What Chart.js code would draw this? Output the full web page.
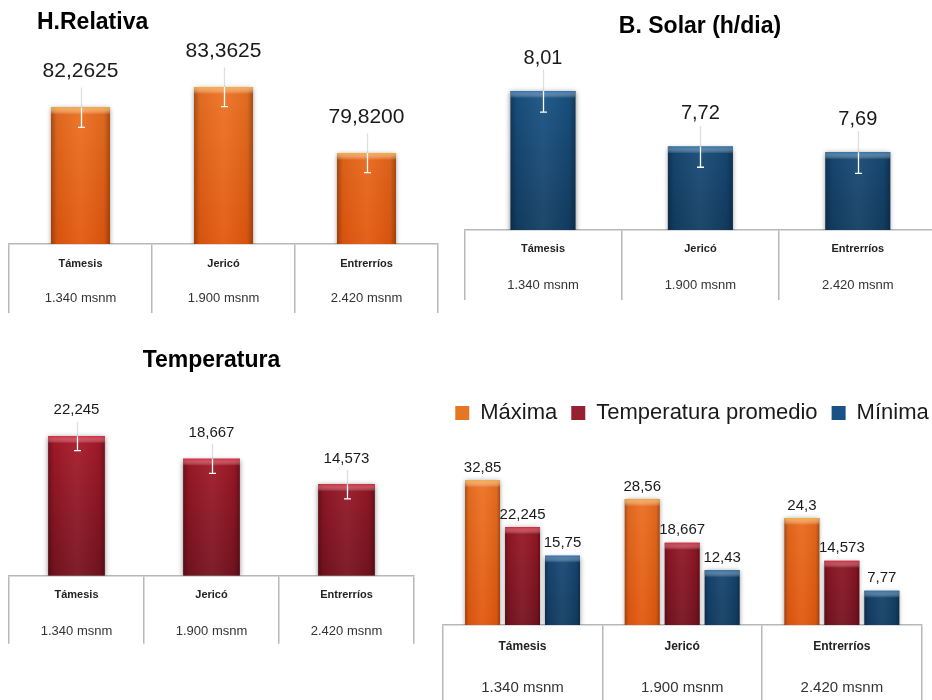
<!DOCTYPE html>
<html><head><meta charset="utf-8">
<script src="https://cdn.jsdelivr.net/npm/chart.js@4/dist/chart.umd.min.js"></script>
<style>
html,body{margin:0;padding:0;width:932px;height:700px;overflow:hidden;background:#fff;}
canvas{position:absolute;}
</style></head><body>
<canvas id="c1" width="466" height="330" style="left:0px;top:0px"></canvas>
<canvas id="c2" width="490" height="310" style="left:455px;top:0px"></canvas>
<canvas id="c3" width="466" height="330" style="left:0px;top:330px"></canvas>
<canvas id="c4" width="512" height="317" style="left:436px;top:388px"></canvas>
<script>
// ---- data ----
const sites = ['Támesis', 'Jericó', 'Entrerríos'];
const altitudes = ['1.340 msnm', '1.900 msnm', '2.420 msnm'];
const humedad = [82.2625, 83.3625, 79.82];
const humedadErr = [1.07, 1.05, 1.05];
const brilloSolar = [8.01, 7.72, 7.69];
const brilloErr = [0.11, 0.108, 0.11];
const tempPromedio = [22.245, 18.667, 14.573];
const tempErr = [2.3, 2.35, 2.3];
const tempMaxima = [32.85, 28.56, 24.3];
const tempMinima = [15.75, 12.43, 7.77];
const seriesNames = ['Máxima', 'Temperatura promedio', 'Mínima'];

const FONT = "'Liberation Sans', Arial, sans-serif";
const LINE = '#b8b8b8';
const tableLabels = sites.map((s, i) => [s, altitudes[i]]);

const PAL = {
  orange: {top: '#f07a2a', bottom: '#e2580f', band: 'rgba(246,176,70,0.9)', legend: '#e57722'},
  red:    {top: '#b91c2d', bottom: '#76131f', band: 'rgba(226,40,60,0.9)',  legend: '#962030'},
  blue:   {top: '#1c5b8f', bottom: '#123d63', band: 'rgba(52,118,176,0.9)', legend: '#1a5285'}
};

function grad(p) {
  return (c) => {
    const {ctx, chartArea} = c.chart;
    if (!chartArea) return p.top;
    const g = ctx.createLinearGradient(0, chartArea.top, 0, chartArea.bottom);
    g.addColorStop(0, p.top);
    g.addColorStop(1, p.bottom);
    return g;
  };
}

function fmt(v, dec) {
  const s = dec == null ? String(v) : v.toFixed(dec);
  return s.replace('.', ',');
}

// ---- plugins ----
const decor = {
  id: 'decor',
  beforeDatasetsDraw(chart) {
    const ctx = chart.ctx;
    ctx.save();
    ctx.shadowColor = 'rgba(0,0,0,0.45)';
    ctx.shadowBlur = 5;
    ctx.shadowOffsetY = 1;
  },
  afterDatasetsDraw(chart) {
    const ctx = chart.ctx;
    ctx.restore();
    const area = chart.chartArea;
    ctx.save();
    ctx.beginPath();
    ctx.rect(area.left, area.top, area.right - area.left, area.bottom - area.top);
    ctx.clip();
    chart.data.datasets.forEach((ds, di) => {
      const meta = chart.getDatasetMeta(di);
      meta.data.forEach((bar) => {
        const {x, y, base, width} = bar.getProps(['x', 'y', 'base', 'width'], true);
        const b = Math.min(base, area.bottom);
        const l = x - width / 2, h = b - y;
        const g = ctx.createLinearGradient(l, 0, l + width, 0);
        g.addColorStop(0, 'rgba(0,0,0,0.30)');
        g.addColorStop(0.1, 'rgba(0,0,0,0.06)');
        g.addColorStop(0.5, 'rgba(255,255,255,0.05)');
        g.addColorStop(0.9, 'rgba(0,0,0,0.06)');
        g.addColorStop(1, 'rgba(0,0,0,0.30)');
        ctx.fillStyle = g;
        ctx.fillRect(l, y, width, h);
        const tg = ctx.createLinearGradient(0, y, 0, y + 7);
        tg.addColorStop(0, ds.bandColor);
        tg.addColorStop(1, 'rgba(255,255,255,0)');
        ctx.fillStyle = tg;
        ctx.fillRect(l, y, width, Math.min(7, h));
      });
    });
    ctx.restore();
  }
};

const errorBars = {
  id: 'errorBars',
  afterDatasetsDraw(chart) {
    const ctx = chart.ctx, ys = chart.scales.y;
    chart.data.datasets.forEach((ds, di) => {
      if (!ds.errors) return;
      chart.getDatasetMeta(di).data.forEach((bar, i) => {
        const v = ds.data[i], e = ds.errors[i];
        const x = Math.round(bar.x) + 0.5;
        const yHi = ys.getPixelForValue(v + e), yLo = ys.getPixelForValue(v - e);
        ctx.save();
        ctx.lineWidth = 1.3;
        ctx.strokeStyle = 'rgba(200,200,200,0.6)';
        ctx.beginPath(); ctx.moveTo(x, yHi); ctx.lineTo(x, bar.y); ctx.stroke();
        ctx.strokeStyle = '#ffffff';
        ctx.beginPath(); ctx.moveTo(x, bar.y); ctx.lineTo(x, yLo);
        ctx.moveTo(x - 3.5, yLo); ctx.lineTo(x + 3.5, yLo); ctx.stroke();
        ctx.restore();
      });
    });
  }
};

const valueLabels = {
  id: 'valueLabels',
  afterDraw(chart, args, o) {
    const ctx = chart.ctx;
    ctx.save();
    ctx.font = o.size + 'px ' + FONT;
    ctx.fillStyle = '#1a1a1a';
    ctx.textAlign = 'center';
    ctx.textBaseline = 'middle';
    chart.data.datasets.forEach((ds, di) => {
      chart.getDatasetMeta(di).data.forEach((bar, i) => {
        ctx.fillText(fmt(ds.data[i], o.decimals), bar.x, bar.y - o.offset);
      });
    });
    ctx.restore();
  }
};

const tableText = {
  id: 'tableText',
  afterDraw(chart, args, o) {
    const ctx = chart.ctx, xs = chart.scales.x;
    const axisY = xs.top;
    ctx.save();
    ctx.textAlign = 'center';
    ctx.textBaseline = 'middle';
    chart.data.labels.forEach((lab, i) => {
      const x = xs.getPixelForValue(i);
      ctx.fillStyle = '#222';
      ctx.font = 'bold ' + o.nameSize + 'px ' + FONT;
      ctx.fillText(lab[0], x, axisY + o.nameDy);
      ctx.fillStyle = '#333';
      ctx.font = o.altSize + 'px ' + FONT;
      ctx.fillText(lab[1], x, axisY + o.altDy);
    });
    ctx.restore();
  }
};

const panelTitle = {
  id: 'panelTitle',
  afterDraw(chart, args, o) {
    if (!o.text) return;
    const ctx = chart.ctx;
    ctx.save();
    ctx.font = 'bold ' + o.size + 'px ' + FONT;
    ctx.fillStyle = '#000';
    ctx.textAlign = o.align;
    ctx.textBaseline = 'alphabetic';
    ctx.fillText(o.text, o.x, o.y);
    ctx.restore();
  }
};

function xAxis(tick) {
  return {
    type: 'category',
    offset: true,
    grid: {display: true, offset: true, drawOnChartArea: false, drawTicks: true, tickLength: tick, color: LINE, lineWidth: 1.5},
    border: {display: true, color: LINE, width: 1.5},
    ticks: {display: false}
  };
}

function singleChart(id, cfg) {
  return new Chart(document.getElementById(id), {
    type: 'bar',
    data: {
      labels: tableLabels,
      datasets: [{
        data: cfg.data,
        errors: cfg.errors,
        backgroundColor: grad(cfg.pal),
        bandColor: cfg.pal.band,
        categoryPercentage: 1,
        barPercentage: cfg.barPct,
        borderWidth: 0
      }]
    },
    options: {
      responsive: false,
      animation: false,
      layout: {padding: cfg.padding},
      scales: {
        x: xAxis(cfg.tick),
        y: {display: false, bounds: 'data', min: cfg.min, max: cfg.max}
      },
      plugins: {
        legend: {display: false},
        tooltip: {enabled: false},
        valueLabels: {size: cfg.labelSize, offset: cfg.labelOffset, decimals: cfg.decimals},
        tableText: cfg.table,
        panelTitle: cfg.title
      }
    },
    plugins: [decor, errorBars, valueLabels, tableText, panelTitle]
  });
}

// Panel 1: Humedad relativa
singleChart('c1', {
  data: humedad, errors: humedadErr, pal: PAL.orange, barPct: 0.413,
  padding: {left: 9, right: 28, top: 40, bottom: 17}, tick: 69,
  min: 74.935, max: 85.885,
  labelSize: 21, labelOffset: 36, decimals: 4,
  table: {nameSize: 11, altSize: 13, nameDy: 20, altDy: 54},
  title: {text: 'H.Relativa', x: 37, y: 29, align: 'left', size: 23}
});

// Panel 2: Brillo solar
singleChart('c2', {
  data: brilloSolar, errors: brilloErr, pal: PAL.blue, barPct: 0.413,
  padding: {left: 9.3, right: 8.5, top: 40, bottom: 10}, tick: 70,
  min: 7.2845, max: 8.2762,
  labelSize: 20, labelOffset: 33, decimals: 2,
  table: {nameSize: 11, altSize: 13, nameDy: 19, altDy: 55},
  title: {text: 'B. Solar (h/dia)', x: 245, y: 33, align: 'center', size: 23}
});

// Panel 3: Temperatura
singleChart('c3', {
  data: tempPromedio, errors: tempErr, pal: PAL.red, barPct: 0.42,
  padding: {left: 9, right: 52, top: 60, bottom: 16.3}, tick: 68,
  min: 0, max: 29.63,
  labelSize: 15, labelOffset: 26, decimals: null,
  table: {nameSize: 11, altSize: 13, nameDy: 19.3, altDy: 55.3},
  title: {text: 'Temperatura', x: 211.5, y: 36.7, align: 'center', size: 23}
});

// Panel 4: Máxima / promedio / mínima
const legendColors = [PAL.orange.legend, PAL.red.legend, PAL.blue.legend];
new Chart(document.getElementById('c4'), {
  type: 'bar',
  data: {
    labels: tableLabels,
    datasets: [
      {label: seriesNames[0], data: tempMaxima, backgroundColor: grad(PAL.orange), bandColor: PAL.orange.band},
      {label: seriesNames[1], data: tempPromedio, backgroundColor: grad(PAL.red), bandColor: PAL.red.band},
      {label: seriesNames[2], data: tempMinima, backgroundColor: grad(PAL.blue), bandColor: PAL.blue.band}
    ]
  },
  options: {
    responsive: false,
    animation: false,
    datasets: {bar: {categoryPercentage: 0.751, barPercentage: 0.875, borderWidth: 0}},
    layout: {padding: 0},
    scales: {
      x: xAxis(80),
      y: {position: 'left', bounds: 'data', min: 0, max: 43.39,
          grid: {display: false}, border: {display: false}, ticks: {display: false},
          afterFit(s) { s.width = 6.7; }},
      y2: {type: 'linear', position: 'right', min: 0, max: 1,
          grid: {display: false}, border: {display: false}, ticks: {display: false},
          afterFit(s) { s.width = 26.3; }}
    },
    plugins: {
      legend: {
        display: true, position: 'top',
        labels: {
          boxWidth: 14, boxHeight: 14, padding: 14, color: '#1a1a1a',
          font: {family: FONT, size: 22},
          generateLabels(chart) {
            const items = Chart.defaults.plugins.legend.labels.generateLabels(chart);
            items.forEach((it, i) => { it.fillStyle = legendColors[i]; it.strokeStyle = legendColors[i]; it.lineWidth = 0; });
            return items;
          }
        }
      },
      tooltip: {enabled: false},
      valueLabels: {size: 15, offset: 12.6, decimals: null},
      tableText: {nameSize: 12, altSize: 15, nameDy: 22, altDy: 62.4},
      panelTitle: {text: ''}
    }
  },
  plugins: [decor, valueLabels, tableText, panelTitle]
});
</script>
</body></html>
